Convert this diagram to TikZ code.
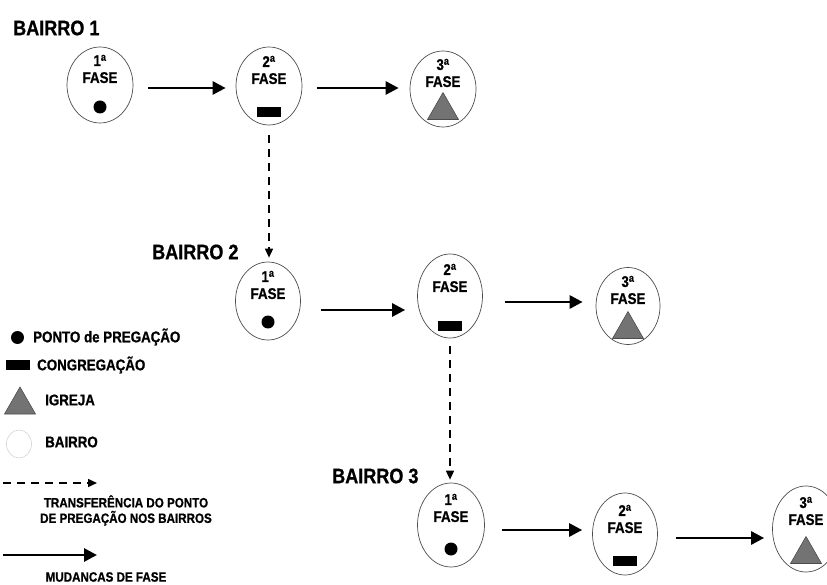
\documentclass[tikz,border=0pt]{standalone}
\usepackage{fontspec}
\setmainfont{Liberation Sans}[FakeStretch=0.86,BoldFeatures={FakeBold=0.8}]
\usepackage{tikz}
\usetikzlibrary{positioning,shapes.geometric,arrows.meta}

\begin{document}
\begin{tikzpicture}[x=1pt,y=-1pt,
  fase/.style={ellipse,draw=gray!60!black,line width=0.7pt,inner sep=0pt,
    minimum width=66pt,minimum height=80pt},
  fasetxt/.style={font=\fontsize{15.5}{17}\selectfont\bfseries,align=center,inner sep=0pt},
  bairrolbl/.style={font=\fontsize{21}{24}\selectfont\bfseries,anchor=west,inner sep=0pt},
  legtxt/.style={font=\fontsize{15.5}{18}\selectfont\bfseries,anchor=west,inner sep=0pt},
  legsmall/.style={font=\fontsize{13.5}{15.5}\selectfont\bfseries,align=center,inner sep=0pt},
  fasearrow/.style={line width=2.8pt,-{Triangle[length=13pt,width=13pt]}},
  transfarrow/.style={line width=1.5pt,dash pattern=on 8pt off 6pt,
    -{Triangle[length=9pt,width=8pt]}},
  ponto/.pic={\fill (0,0) circle[radius=6.5pt];},
  congreg/.pic={\fill (-12pt,-5pt) rectangle (12pt,5pt);},
  igreja/.pic={\filldraw[fill=gray!90!black,draw=gray!60!black,line width=0.6pt]
    (-15.5pt,-13.5pt) -- (15.5pt,-13.5pt) -- (0pt,13.5pt) -- cycle;}]
\useasboundingbox (0,0) rectangle (827,585);

% bairro 1
\node[bairrolbl] (lb1) at (13,28) {BAIRRO 1};
\node[fase,minimum height=76pt] (b1f1) at (100,85) {};
\node[fase,minimum height=78pt] (b1f2) at (269,86) {};
\node[fase,minimum height=76pt] (b1f3) at (443,89) {};
% bairro 2
\node[bairrolbl] (lb2) at (152,252) {BAIRRO 2};
\node[fase,minimum width=65pt,minimum height=78pt] (b2f1) at (268,301) {};
\node[fase,minimum width=65pt,minimum height=84pt] (b2f2) at (450,296) {};
\node[fase,minimum width=64pt,minimum height=77pt] (b2f3) at (628,306) {};
% bairro 3
\node[bairrolbl] (lb3) at (332,476) {BAIRRO 3};
\node[fase,minimum width=67pt,minimum height=84pt] (b3f1) at (451,525) {};
\node[fase,minimum width=65pt,minimum height=82pt] (b3f2) at (625,534) {};
\node[fase,minimum width=67pt,minimum height=86pt] (b3f3) at (806,529) {};

% textos e simbolos das fases
\node[fasetxt] at ([yshift=16pt]b1f1.center) {1\textsuperscript{a}\\FASE};
\node[fasetxt] at ([yshift=16pt]b1f2.center) {2\textsuperscript{a}\\FASE};
\node[fasetxt] at ([yshift=16pt]b1f3.center) {3\textsuperscript{a}\\FASE};
\node[fasetxt] at ([yshift=16pt]b2f1.center) {1\textsuperscript{a}\\FASE};
\node[fasetxt] at ([yshift=18pt]b2f2.center) {2\textsuperscript{a}\\FASE};
\node[fasetxt] at ([yshift=16pt]b2f3.center) {3\textsuperscript{a}\\FASE};
\node[fasetxt] at ([yshift=17pt]b3f1.center) {1\textsuperscript{a}\\FASE};
\node[fasetxt] at ([yshift=15pt]b3f2.center) {2\textsuperscript{a}\\FASE};
\node[fasetxt] at ([yshift=18pt]b3f3.center) {3\textsuperscript{a}\\FASE};
\pic at ([yshift=-22pt]b1f1.center) {ponto};
\pic at ([yshift=-26pt]b1f2.center) {congreg};
\pic at ([yshift=-17pt]b1f3.center) {igreja};
\pic at ([yshift=-21pt]b2f1.center) {ponto};
\pic at ([yshift=-30pt]b2f2.center) {congreg};
\pic at ([yshift=-19pt]b2f3.center) {igreja};
\pic at ([yshift=-24pt]b3f1.center) {ponto};
\pic at ([yshift=-27pt]b3f2.center) {congreg};
\pic at ([yshift=-21pt]b3f3.center) {igreja};

% mudancas de fase
\draw[fasearrow,shorten <=15pt,shorten >=10pt] (b1f1.east |- 0,88) -- (b1f2.west |- 0,88);
\draw[fasearrow,shorten <=15pt,shorten >=11pt] (b1f2.east |- 0,88) -- (b1f3.west |- 0,88);
\draw[fasearrow,shorten <=20pt,shorten >=12pt] (b2f1.east |- 0,310) -- (b2f2.west |- 0,310);
\draw[fasearrow,shorten <=22pt,shorten >=13pt] (b2f2.east |- 0,302) -- (b2f3.west |- 0,302);
\draw[fasearrow,shorten <=17pt,shorten >=10pt] (b3f1.east |- 0,530) -- (b3f2.west |- 0,530);
\draw[fasearrow,shorten <=18pt,shorten >=8pt] (b3f2.east |- 0,538) -- (b3f3.west |- 0,538);

% transferencia entre bairros
\draw[transfarrow,shorten <=10pt,shorten >=4pt] (b1f2.south) -- (b1f2.south |- b2f1.north);
\draw[transfarrow,shorten <=8pt,shorten >=3pt] (b2f2.south) -- (b2f2.south |- b3f1.north);

% legenda
\pic at (17.5,337.5) {ponto};
\node[legtxt] (lgponto) at (33,337) {PONTO de PREGAÇÃO};
\pic at (18,365) {congreg};
\node[legtxt] (lgcongr) at (37,365) {CONGREGAÇÃO};
\pic at (20,400.5) {igreja};
\node[legtxt] (lgigreja) at (45,400) {IGREJA};
\node[ellipse,draw=gray!40,line width=0.5pt,minimum width=25pt,minimum height=28pt] (lgcirc) at (19,444) {};
\node[legtxt] (lgbairro) at (45,442) {BAIRRO};
\coordinate (lgt0) at (3,483);
\coordinate (lgt1) at (97,483);
\draw[transfarrow] (lgt0) -- (lgt1);
\node[legsmall] (lgtransf) at (126,510.5) {TRANSFERÊNCIA DO PONTO\\DE PREGAÇÃO NOS BAIRROS};
\coordinate (lgm0) at (3,555);
\coordinate (lgm1) at (97,555);
\draw[fasearrow] (lgm0) -- (lgm1);
\node[legsmall] (lgmud) at (106,577) {MUDANCAS DE FASE};
\end{tikzpicture}
\end{document}
